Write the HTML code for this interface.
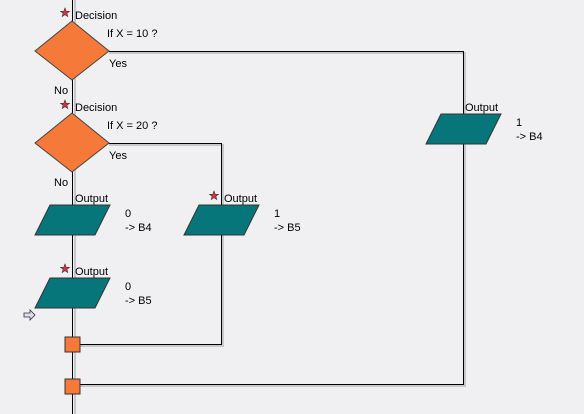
<!DOCTYPE html>
<html><head><style>
html,body{margin:0;padding:0;background:#f0f0f3;}
svg{display:block}
text{font-family:"Liberation Sans",sans-serif;font-size:11px;fill:#000}
</style></head><body>
<svg width="584" height="414" viewBox="0 0 584 414" xmlns="http://www.w3.org/2000/svg">
<rect width="584" height="414" fill="#f0f0f3"/>
<!-- shadows -->
<g stroke="#c8c8cc" stroke-width="2" fill="none">
<line x1="75" y1="0" x2="75" y2="414"/>
<polyline points="109,53 465,53 465,386 80,386"/>
<polyline points="109,145 223,145 223,346 80,346"/>
</g>
<g stroke="#000" stroke-width="1" fill="none">
<line x1="72.5" y1="0" x2="72.5" y2="414"/>
<polyline points="109,51.5 463.5,51.5 463.5,384.5 80,384.5"/>
<polyline points="109,143.5 221.5,143.5 221.5,344.5 80,344.5"/>
</g>
<g stroke="#444" stroke-width="1">
<polygon points="72,21 109,51 72,80 35,51" fill="#f57a3a"/>
<polygon points="72,113 109,143 72,172 35,143" fill="#f57a3a"/>
<polygon points="50,205 110,205 95,235 35,235" fill="#07767a" stroke="#333"/>
<polygon points="50,278 110,278 95,308 35,308" fill="#07767a" stroke="#333"/>
<polygon points="199,205 259,205 244,235 184,235" fill="#07767a" stroke="#333"/>
<polygon points="441,114 501,114 486,144 426,144" fill="#07767a" stroke="#333"/>
<rect x="65" y="337" width="15" height="15" fill="#f57a3a" stroke="#333"/>
<rect x="65" y="379" width="15" height="15" fill="#f57a3a" stroke="#333"/>
</g>
<g fill="#e03040" stroke="#333" stroke-width="0.6">
<polygon points="65,8 66.2,11.2 69.5,11.3 66.9,13.3 67.8,16.5 65,14.6 62.2,16.5 63.1,13.3 60.5,11.3 63.8,11.2"/>
<polygon points="65,100 66.2,103.2 69.5,103.3 66.9,105.3 67.8,108.5 65,106.6 62.2,108.5 63.1,105.3 60.5,103.3 63.8,103.2"/>
<polygon points="65,264 66.2,267.2 69.5,267.3 66.9,269.3 67.8,272.5 65,270.6 62.2,272.5 63.1,269.3 60.5,267.3 63.8,267.2"/>
<polygon points="214,191 215.2,194.2 218.5,194.3 215.9,196.3 216.8,199.5 214,197.6 211.2,199.5 212.1,196.3 209.5,194.3 212.8,194.2"/>
</g>
<path d="M24,313 h6 v-3 l5,5 -5,5 v-3 h-6z" fill="#dde" stroke="#333" stroke-width="0.8"/>
<text x="75" y="19">Decision</text>
<text x="107" y="37">If  X = 10 ?</text>
<text x="109" y="67">Yes</text>
<text x="54" y="94">No</text>
<text x="75" y="111">Decision</text>
<text x="107" y="129">If  X = 20 ?</text>
<text x="109" y="159">Yes</text>
<text x="54" y="186">No</text>
<text x="75" y="202">Output</text>
<text x="125" y="217">0</text>
<text x="125" y="231">-&gt; B4</text>
<text x="224" y="202">Output</text>
<text x="274" y="217">1</text>
<text x="274" y="231">-&gt; B5</text>
<text x="75" y="275">Output</text>
<text x="125" y="290">0</text>
<text x="125" y="304">-&gt; B5</text>
<text x="465" y="111">Output</text>
<text x="516" y="126">1</text>
<text x="516" y="140">-&gt; B4</text>
</svg>
</body></html>
